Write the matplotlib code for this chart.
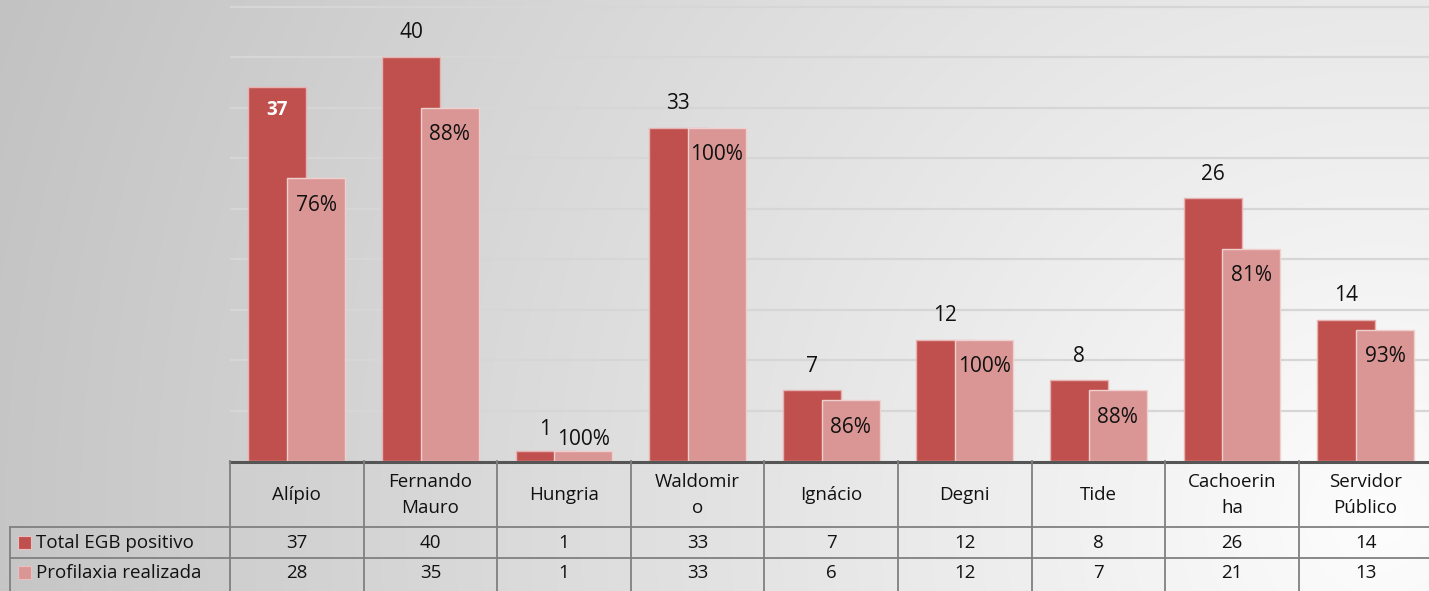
import matplotlib.pyplot as plt
import numpy as np

# categorias (nomes quebrados como no original)
categorias = ["Alípio", "Fernando\nMauro", "Hungria", "Waldomir\no", "Ignácio",
              "Degni", "Tide", "Cachoerin\nha", "Servidor\nPúblico"]
total_egb = [37, 40, 1, 33, 7, 12, 8, 26, 14]
profilaxia = [28, 35, 1, 33, 6, 12, 7, 21, 13]
percentuais = ["76%", "88%", "100%", "100%", "86%", "100%", "88%", "81%", "93%"]
series = ["Total EGB positivo", "Profilaxia realizada"]

cor_escura = '#C0504D'
cor_clara = '#DA9694'

W, H = 1429, 591
fig = plt.figure(figsize=(W / 100, H / 100), dpi=100)
plt.rcParams['font.family'] = ['Open Sans', 'DejaVu Sans']

# fundo com gradiente radial
bg = fig.add_axes([0, 0, 1, 1], zorder=-10)
yy, xx = np.mgrid[0:H, 0:W]
d = np.sqrt((xx - 1380.0) ** 2 + (yy - 520.0) ** 2) / 1500.0
g = np.clip(253 - d * 60, 190, 255) / 255.0
bg.imshow(np.dstack([g, g, g]), extent=[0, W, H, 0], aspect='auto')
bg.set_xlim(0, W)
bg.set_ylim(H, 0)
bg.axis('off')

# eixo principal
base_px = 461
ax = fig.add_axes([230 / W, (H - base_px) / H, 1199 / W, base_px / H])
ax.patch.set_alpha(0)
x = np.arange(len(categorias))
larg = 0.435
dx = 0.145
ax.set_xlim(-0.5, -0.5 + 1199 / 133.6)
ax.set_ylim(0, base_px / 10.1)

for v in range(5, 50, 5):
    ax.axhline(v, color='#D6D6D6', lw=1.6, zorder=0)

ax.bar(x - dx, total_egb, larg, color=cor_escura, edgecolor='#E6B3B2', lw=1, zorder=2)
ax.bar(x + dx, profilaxia, larg, color=cor_clara, edgecolor='#F0D0CF', lw=1, zorder=3)

for i in range(len(categorias)):
    if i == 0:
        ax.annotate(str(total_egb[i]), (x[i] - dx, total_egb[i]), xytext=(0, -23),
                    textcoords='offset pixels', ha='center', va='center',
                    fontsize=13.5, color='white', fontweight='bold', zorder=5)
    else:
        ax.annotate(str(total_egb[i]), (x[i] - dx, total_egb[i]), xytext=(0, 24 if total_egb[i] > 2 else 21),
                    textcoords='offset pixels', ha='center', va='center',
                    fontsize=15, color='#111111', zorder=5)
    off = -27 if profilaxia[i] > 3 else 11
    ax.annotate(percentuais[i], (x[i] + dx, profilaxia[i]), xytext=(0, off),
                textcoords='offset pixels', ha='center', va='center',
                fontsize=15, color='#111111', zorder=5)

ax.set_xticks([])
ax.set_yticks([])
for s in ax.spines.values():
    s.set_visible(False)

# tabela de dados abaixo
tax = fig.add_axes([230 / W, 0, 1199 / W, (H - base_px) / H])
tax.patch.set_alpha(0)
tax.set_xlim(ax.get_xlim())
tax.set_ylim(H, base_px)
tax.axis('off')

esq = -0.5 + (10 - 230) / 133.6
dir_ = len(categorias) - 0.5
linha = '#808080'
y_cab, y_r1, y_r2 = 527, 558, 591
tax.plot([-0.5, dir_], [base_px + 1, base_px + 1], color='#555555', lw=2.2, clip_on=False)
for b in np.arange(len(categorias) + 1) - 0.5:
    tax.plot([b, b], [base_px, y_r2], color=linha, lw=1.3, clip_on=False)
tax.plot([esq, esq], [y_cab, y_r2], color=linha, lw=1.3, clip_on=False)
for yl in (y_cab, y_r1):
    tax.plot([esq, dir_], [yl, yl], color=linha, lw=1.3, clip_on=False)

for i, nome in enumerate(categorias):
    tax.text(x[i], (base_px + y_cab) / 2 + 1, nome, ha='center', va='center',
             fontsize=13.5, color='#111111', linespacing=1.55)
    tax.text(x[i], (y_cab + y_r1) / 2, str(total_egb[i]), ha='center', va='center',
             fontsize=13.5, color='#111111')
    tax.text(x[i], (y_r1 + y_r2) / 2 - 2, str(profilaxia[i]), ha='center', va='center',
             fontsize=13.5, color='#111111')

q = 13 / 133.6
for serie, cor, (y0, y1) in zip(series, [cor_escura, cor_clara],
                                [(y_cab, y_r1), (y_r1, y_r2)]):
    yc = (y0 + y1) / 2 - (2 if y1 == y_r2 else 0)
    x0 = esq + 8 / 133.6
    tax.add_patch(plt.Rectangle((x0, yc - 6.5), q, 13, color=cor, ec='#E8C0BF', lw=0.8,
                                clip_on=False))
    tax.text(x0 + q + 5 / 133.6, yc, serie, ha='left', va='center',
             fontsize=13.5, color='#111111', clip_on=False)

fig.savefig('out.png', dpi=100)
